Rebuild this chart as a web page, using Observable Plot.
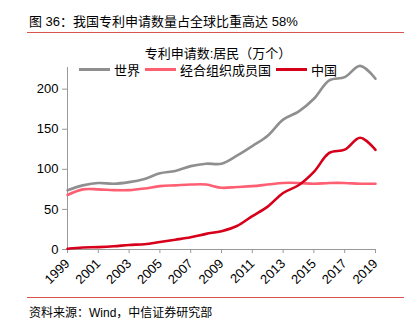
<!DOCTYPE html>
<html><head><meta charset="utf-8">
<script src="https://cdn.jsdelivr.net/npm/d3@7"></script>
<script src="https://cdn.jsdelivr.net/npm/@observablehq/plot@0.6"></script>
<style>
body{margin:0;background:#fff;font-family:"Liberation Sans","Noto Sans CJK SC",sans-serif;}
#wrap{position:relative;width:409px;height:325px;overflow:hidden;}
.abs{position:absolute;white-space:nowrap;color:#000;}
#title{left:29px;top:11px;font-size:13px;font-family:"Liberation Sans","Noto Sans CJK SC",sans-serif;}
.rule{position:absolute;left:27px;width:377px;height:1px;background:#d9534f;}
#ctitle{left:0;width:436px;text-align:center;top:43px;font-size:13px;}
#legend{left:79px;top:60px;font-size:13px;display:flex;align-items:center;}
.sw{display:inline-block;width:31px;height:3px;margin-right:4px;}
.item{display:flex;align-items:center;margin-right:5px;}
#src{left:29px;top:303px;font-size:12px;}
#chart{position:absolute;left:0;top:0;}
</style></head>
<body><div id="wrap">
<div class="abs" id="title">图 36：我国专利申请数量占全球比重高达 58%</div>
<div class="rule" style="top:32px"></div>
<div class="abs" id="ctitle">专利申请数:居民（万个）</div>
<div class="abs" id="legend"></div>
<div id="chart"></div>
<div class="rule" style="top:297px"></div>
<div class="abs" id="src">资料来源：Wind，中信证券研究部</div>
</div>
<script>
const years = d3.range(1999, 2020);
const world = [74, 80, 83, 82, 84, 88, 95, 98, 104, 107, 107, 117, 129, 142, 162, 172, 188, 211, 215, 229, 213];
const oecd  = [68, 75, 75, 74, 74, 76, 79, 80, 81, 81, 77, 78, 79, 81, 83, 83, 82, 83, 83, 82, 82];
const china = [1.0, 2.5, 3.0, 4.0, 5.7, 6.6, 9.3, 12.2, 15.3, 19.5, 22.9, 29.3, 41.6, 53.5, 70.5, 80.1, 96.8, 120.4, 124.5, 139.4, 124.3];
const seriesNames = ["世界", "经合组织成员国", "中国"];
const seriesColors = ["#8f8f8f", "#ff5f73", "#d7001b"];
const yTicks = [0, 50, 100, 150, 200];
const xTicks = d3.range(1999, 2020, 2);

const rows = [];
[world, oecd, china].forEach((arr, i) => arr.forEach((v, j) => rows.push({year: years[j], value: v, s: seriesNames[i]})));

const leg = document.getElementById("legend");
seriesNames.forEach((n, i) => {
  const it = document.createElement("span"); it.className = "item";
  it.innerHTML = `<span class="sw" style="background:${seriesColors[i]}"></span><span>${n}</span>`;
  leg.appendChild(it);
});

const plot = Plot.plot({
  width: 409, height: 325,
  marginLeft: 67, marginRight: 34, marginTop: 67, marginBottom: 76,
  style: {fontFamily: "Liberation Sans, sans-serif", fontSize: "13px", background: "transparent", overflow: "visible"},
  x: {domain: [1999, 2019], ticks: xTicks, tickFormat: d => String(d), tickRotate: -45, label: null, tickSize: 4},
  y: {domain: [0, 227], ticks: yTicks, label: null, tickSize: 5},
  color: {domain: seriesNames, range: seriesColors},
  marks: [
    Plot.axisX({ticks: xTicks, tickFormat: d => String(d), tickRotate: -45, tickSize: 4, stroke: "#999", label: null, fontSize: 13, fill: "#000"}),
    Plot.axisY({ticks: yTicks, tickSize: 5, stroke: "#999", label: null, fontSize: 13, fill: "#000", tickPadding: 4}),
    Plot.ruleX([1999], {stroke: "#999"}),
    Plot.ruleY([0], {stroke: "#999"}),
    Plot.line(rows, {x: "year", y: "value", z: "s", stroke: "s", strokeWidth: 2.6, curve: "catmull-rom"})
  ]
});
document.getElementById("chart").appendChild(plot);
</script>
</body></html>
